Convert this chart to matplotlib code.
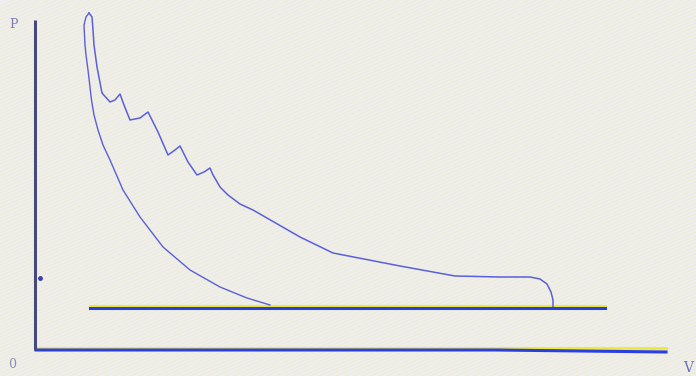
import numpy as np
import matplotlib
matplotlib.use("Agg")
import matplotlib.pyplot as plt

# Indicator diagram: pressure P against volume V (arbitrary units)
expansion_v = [0.53, 0.56, 0.57, 0.58, 0.61, 0.66, 0.74, 0.79, 0.84, 0.88, 0.94, 1.04, 1.12,
               1.22, 1.32, 1.39, 1.44, 1.52, 1.61, 1.68, 1.74, 1.77, 1.80, 1.84, 1.92, 2.04,
               2.17, 2.64, 2.97, 3.64, 4.19, 4.64, 4.94, 5.04, 5.11, 5.15, 5.17, 5.17]
expansion_p = [3.37, 3.33, 3.20, 3.05, 2.83, 2.57, 2.48, 2.50, 2.56, 2.45, 2.30, 2.32, 2.38,
               2.18, 1.95, 2.00, 2.04, 1.88, 1.75, 1.78, 1.82, 1.75, 1.70, 1.63, 1.55, 1.46,
               1.40, 1.13, 0.97, 0.84, 0.74, 0.73, 0.73, 0.71, 0.66, 0.58, 0.50, 0.43]

compression_v = [2.34, 2.11, 1.84, 1.54, 1.27, 1.04, 0.87, 0.74, 0.67, 0.62, 0.58, 0.555,
                 0.52, 0.50, 0.49, 0.48, 0.50, 0.53]
compression_p = [0.45, 0.52, 0.63, 0.80, 1.03, 1.33, 1.60, 1.90, 2.05, 2.20, 2.35, 2.50,
                 2.80, 2.95, 3.05, 3.25, 3.33, 3.37]

atmos_v = [0.54, 5.69]
atmos_p = [0.42, 0.42]

axis_v_end = 6.30
axis_p_end = 3.30

paper = "#eeedf4"
fig = plt.figure(figsize=(6.96, 3.76), dpi=100)
fig.patch.set_facecolor(paper)
ax = fig.add_axes([0, 0, 1, 1])
ax.set_facecolor(paper)
ax.set_xlim(-0.36, 6.60)
ax.set_ylim(-0.26, 3.50)
ax.axis("off")

# faint diagonal scan stripes on the paper
slope = 0.42
for c in np.arange(-3.5, 3.6, 0.036):
    ax.plot([-0.4, 6.7], [c - 0.4 * slope, c + 6.7 * slope], color="#f0ef9a",
            lw=0.8, alpha=0.45, zorder=0)

curve_color = "#5a60d8"
ax.plot(expansion_v, expansion_p, color=curve_color, lw=1.1, zorder=3,
        solid_joinstyle="round")
ax.plot(compression_v, compression_p, color=curve_color, lw=1.0, zorder=3,
        solid_joinstyle="round")

# atmospheric line with yellow highlight
ax.plot(atmos_v, [p + 0.02 for p in atmos_p], color="#ecea3a", lw=2.2, zorder=2)
ax.plot(atmos_v, atmos_p, color="#2b3ee0", lw=2.2, zorder=3)

# axes drawn as lines
ax.plot([0, axis_v_end], [0.02, 0.02], color="#ecea3a", lw=2.2, zorder=2)
ax.plot([0, 4.6, axis_v_end], [0.0, 0.0, -0.02], color="#2b3ee0", lw=2.2, zorder=3)
ax.plot([-0.01, -0.01], [0.0, axis_p_end], color="#454a78", lw=2.2, zorder=3,
        solid_capstyle="butt")
ax.plot([0.04], [0.72], marker="o", ms=2.5, color="#3a40b0", zorder=3)

ax.text(-0.22, 3.25, "P", fontsize=9, color="#7a7fb0", ha="center", va="center",
        family="DejaVu Serif")
ax.text(-0.24, -0.15, "0", fontsize=9, color="#8a8fb8", ha="center", va="center",
        family="DejaVu Serif")
ax.text(6.52, -0.18, "V", fontsize=10, color="#6a70c0", ha="center", va="center",
        family="DejaVu Serif")

fig.savefig("out.png", dpi=100, facecolor=fig.get_facecolor())
